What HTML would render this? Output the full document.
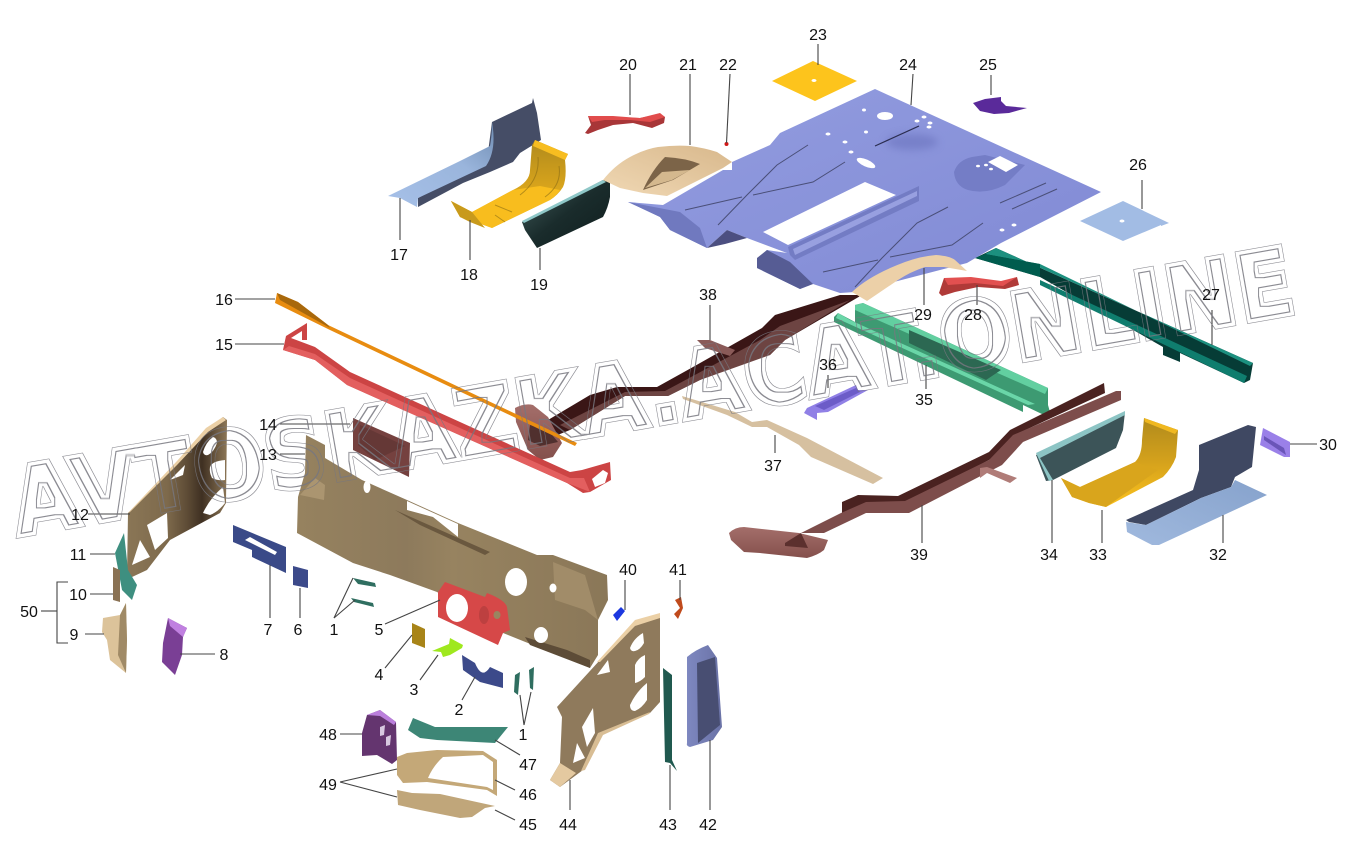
<!DOCTYPE html>
<html><head><meta charset="utf-8"><style>
html,body{margin:0;padding:0;background:#fff;width:1360px;height:847px;overflow:hidden}
svg{display:block}
text.l{font-family:"Liberation Sans",sans-serif;font-size:16px;fill:#111;text-anchor:middle}
.ld line,.ld polyline{stroke:#444;stroke-width:1.1;fill:none}
</style></head><body>
<svg width="1360" height="847" viewBox="0 0 1360 847" xmlns="http://www.w3.org/2000/svg">
<defs>
<linearGradient id="gFloor" x1="0" y1="0" x2="1" y2="1"><stop offset="0" stop-color="#939de0"/><stop offset="1" stop-color="#8089d4"/></linearGradient>
<linearGradient id="g17" x1="0" y1="1" x2="1" y2="0"><stop offset="0" stop-color="#a6c0e8"/><stop offset=".6" stop-color="#9ab5dc"/><stop offset="1" stop-color="#6f8cb2"/></linearGradient>
<linearGradient id="gGold" x1="0" y1="0" x2="0" y2="1"><stop offset="0" stop-color="#b08a1c"/><stop offset=".5" stop-color="#d5a21c"/><stop offset="1" stop-color="#fcc21e"/></linearGradient>
<linearGradient id="g19" x1="0" y1="0" x2="1" y2="1"><stop offset="0" stop-color="#44605f"/><stop offset=".5" stop-color="#1a2c2c"/><stop offset="1" stop-color="#0f1d1d"/></linearGradient>
<linearGradient id="g21" x1="0" y1="1" x2="1" y2="0"><stop offset="0" stop-color="#f0d8b4"/><stop offset="1" stop-color="#d8b88c"/></linearGradient>
<linearGradient id="g13" x1="0" y1="0" x2="1" y2="0"><stop offset="0" stop-color="#96825f"/><stop offset=".35" stop-color="#8d7a5c"/><stop offset=".5" stop-color="#978360"/><stop offset="1" stop-color="#8a7758"/></linearGradient>
<linearGradient id="g12" x1="0" y1="0" x2="1" y2="0"><stop offset="0" stop-color="#8a7656"/><stop offset=".4" stop-color="#7e6a4c"/><stop offset=".6" stop-color="#5e4c36"/><stop offset=".75" stop-color="#3f3022"/><stop offset="1" stop-color="#8c7656"/></linearGradient>
<linearGradient id="g42" x1="0" y1="0" x2="1" y2="0"><stop offset="0" stop-color="#7e88c0"/><stop offset="1" stop-color="#6a72a6"/></linearGradient>
<linearGradient id="g32" x1="0" y1="1" x2="1" y2="0"><stop offset="0" stop-color="#a0b9de"/><stop offset="1" stop-color="#86a2cc"/></linearGradient>
<linearGradient id="gCup" x1="0" y1="0" x2="0" y2="1"><stop offset="0" stop-color="#a46e6a"/><stop offset="1" stop-color="#84504c"/></linearGradient>
<filter id="soft" x="-30%" y="-60%" width="160%" height="220%"><feGaussianBlur stdDeviation="4"/></filter>
<filter id="wm" filterUnits="userSpaceOnUse" x="0" y="200" width="1360" height="360" color-interpolation-filters="sRGB">
<feMorphology in="SourceAlpha" operator="erode" radius="0.7" result="e1"/>
<feComposite in="SourceAlpha" in2="e1" operator="out" result="o1"/>
<feMorphology in="SourceAlpha" operator="erode" radius="3.6" result="e2"/>
<feMorphology in="SourceAlpha" operator="erode" radius="4.3" result="e3"/>
<feComposite in="e2" in2="e3" operator="out" result="o2"/>
<feMerge result="m"><feMergeNode in="o1"/><feMergeNode in="o2"/></feMerge>
<feFlood flood-color="#77777f" flood-opacity=".85"/>
<feComposite in2="m" operator="in"/>
</filter>
</defs>

<!-- 17 -->
<path d="M492,122 L532,103 L533,98 L537,113 L541,140 L520,153 L513,162 L490,172 L463,183 L418,207 L418,198 L487,160Z" fill="#454d66"/>
<path d="M388,196 L460,161 L490,146 Q492,135 492,122 Q497,150 486,166 L418,198 L417,207 L400,198Z" fill="url(#g17)"/>
<!-- 18 -->
<path d="M535,140 L568,154 L565,160 Q567,178 563,187 Q558,195 550,200 L492,228 L470,220 L460,217 L451,201 L472,212 L513,190 Q530,182 530,170 L532,145Z" fill="url(#gGold)"/>
<path d="M451,201 L472,212 L513,190 L540,186 L560,190 Q556,196 550,200 L492,228 L470,220 L460,217Z" fill="#f8bd1e"/>
<path d="M535,140 L568,154 L565,160 L533,146Z" fill="#f7bd20"/>
<path d="M451,201 L472,212 L485,228 L470,222 L460,217Z" fill="#c89a1c"/>
<path d="M538,157 Q540,180 520,195 M559,166 Q562,185 545,197 M495,205 L512,212 M495,215 L505,222" fill="none" stroke="#8a6c14" stroke-width="1" opacity=".6"/>
<!-- 19 -->
<path d="M603,180 L610,182 L610,197 Q608,208 603,217 L537,248 L525,230 L522,222Z" fill="url(#g19)"/>
<path d="M522,221 L603,180 L606,182 L524,223Z" fill="#8fc8c8"/>
<!-- 20 -->
<path d="M588,116 L613,117 L640,118 L660,114 L665,117 L664,123 L652,128 L633,123 L613,125 L598,130 L588,134 L585,133 L591,125Z" fill="#a83638"/>
<path d="M588,116 L613,116 L640,118 L660,113 L665,117 L650,122 L630,120 L605,120 L592,122Z" fill="#e14c4c"/>

<!-- 23 -->
<polygon points="813,61 857,81 815,101 772,81" fill="#fdc41c"/>
<ellipse cx="814" cy="80.500" rx="2.500" ry="1.500" fill="#fff"/>
<!-- 25 -->
<path d="M973,103 L985,99 L1001,97 L1001,101 L1006,106 L1027,108 L1009,113 L994,114 L980,111Z" fill="#5a2a9a"/>
<!-- 26 -->
<polygon points="1123,201 1169,223 1161,226 1161,225 1123,241 1080,221" fill="#a2bce4"/>
<ellipse cx="1122" cy="221" rx="2.500" ry="1.500" fill="#fff"/>

<!-- 27 -->
<polygon points="996,248 1253,363 1250,380 1244,383 1180,353 1180,362 1163,355 1163,347 1040,277 975,258" fill="#063c36"/>
<polygon points="996,248 1253,363 1250,366 1040,264 985,254" fill="#1c907f"/>
<polygon points="985,254 1040,264 1040,277 975,258" fill="#005c4e"/>
<polygon points="1040,280 1247,376 1244,383 1040,285" fill="#0f7d6e"/>

<!-- upper rail -->
<path d="M548,420 L590,395 L617,387 L657,387 L693,367 L762,328 L775,315 L840,295 L862,295 L850,302 L785,340 L770,355 L740,362 L700,380 L668,396 L625,396 L570,430 L555,436Z" fill="#3a1616"/>
<path d="M560,425 L625,392 L665,391 L760,340 L780,326 L850,300 L785,340 L770,355 L700,380 L668,396 L625,396 L570,430Z" fill="#6d4442"/>
<path d="M515,408 Q525,403 533,405 L548,417 L562,443 L553,457 L540,460 L528,450 L516,422Z" fill="url(#gCup)"/>
<path d="M530,425 L548,430 L558,442 L540,446 L528,440Z" fill="#50302e"/>

<!-- 24 floor -->
<path d="M875,89 L1101,192 L1001,243 L967,263 L855,292 L840,293 L813,284 L800,289 L757,268 L757,260 L767,250 L787,253 L747,238 L727,230 L707,248 L670,230 L660,217 L628,202 L663,205 L723,170 L732,170 L732,162 L770,145 L780,133Z" fill="url(#gFloor)"/>
<path d="M757,258 L767,250 L790,262 L813,284 L800,289 L757,268Z" fill="#565c94"/>
<path d="M707,248 L727,230 L747,238 L725,244Z" fill="#4c4f80"/>
<path d="M628,202 L660,217 L670,230 L707,248 L700,228 L680,212Z" fill="#7079bf"/>
<polygon points="763,232 788,245 896,195 865,182" fill="#fff"/>
<path d="M788,247 L919,186 L919,201 L795,260 L790,255Z" fill="#737cc4"/>
<path d="M793,249 L917,191 L917,196 L795,255Z" fill="#98a0e0"/>
<ellipse cx="912" cy="142" rx="26" ry="8" fill="#6f78c2" opacity=".7" filter="url(#soft)"/>
<g fill="none" stroke="#4a4f78" stroke-width="1">
<path d="M808,145 L777,165 L747,195 L718,225"/>
<path d="M845,162 L813,182 L753,195"/>
<path d="M742,197 L685,210"/>
<path d="M948,207 L917,223 L882,258 L855,287"/>
<path d="M983,223 L952,245 L890,257"/>
<path d="M878,260 L823,272"/>
<path d="M1046,183 L1000,203"/>
<path d="M1057,189 L1012,209"/>
</g>
<path d="M919,126 L875,146" stroke="#2b2d50" stroke-width="1.200"/>
<path d="M954,172 Q958,160 972,157 L985,155 L1025,165 L1005,185 Q985,195 968,190 Q955,186 954,172Z" fill="#747dc6"/>
<polygon points="988,162 1000,156 1018,165 1006,172" fill="#fff"/>
<g fill="#fff">
<ellipse cx="885" cy="116" rx="8" ry="4"/><ellipse cx="866" cy="132" rx="2" ry="1.500"/>
<ellipse cx="864" cy="110" rx="2" ry="1.500"/><ellipse cx="882" cy="118" rx="2" ry="1.500"/><ellipse cx="828" cy="134" rx="2.500" ry="1.500"/><ellipse cx="845" cy="142" rx="2.500" ry="1.500"/><ellipse cx="851" cy="152" rx="2.500" ry="1.500"/>
<ellipse cx="917" cy="121" rx="2.500" ry="1.500"/><ellipse cx="924" cy="117" rx="2.500" ry="1.500"/><ellipse cx="930" cy="123" rx="2.500" ry="1.500"/><ellipse cx="929" cy="127" rx="2.500" ry="1.500"/>
<ellipse cx="1002" cy="230" rx="2.500" ry="1.500"/><ellipse cx="1014" cy="225" rx="2.500" ry="1.500"/>
<ellipse cx="866" cy="163" rx="10" ry="3.500" transform="rotate(24 866 163)"/>
<ellipse cx="978" cy="166" rx="2" ry="1.300"/><ellipse cx="986" cy="165" rx="2" ry="1.300"/><ellipse cx="991" cy="169" rx="2" ry="1.300"/>
</g>
<!-- 21 -->
<path d="M603,180 Q615,165 630,157 Q645,149 658,147 Q675,145 690,146 Q705,148 717,152 L732,162 L723,168 L667,196 L643,193 L620,188Z" fill="url(#g21)"/>
<path d="M665,157 Q685,158 700,164 L673,180 L643,190 Q652,170 665,157Z" fill="#7c6448"/>
<path d="M645,188 L662,172 L690,170 L672,180Z" fill="#d4b88e"/>
<!-- 22 -->
<circle cx="726.500" cy="144" r="2" fill="#d01818"/>
<!-- 29 -->
<path d="M852,292 Q870,275 905,262 Q922,256 936,255 Q950,256 955,260 L967,271 L944,267 L925,267 Q910,272 898,280 L867,301Z" fill="#ecd0a8"/>
<!-- 28 -->
<path d="M944,278 L971,278 L1001,282 L1017,277 L1019,285 L1005,289 L978,287 L955,292 L942,296 L939,293Z" fill="#b03a38"/>
<path d="M944,278 L971,277 L1001,281 L1017,277 L1003,286 L975,283 L948,285Z" fill="#e25050"/>

<!-- 35 -->
<polygon points="855,305 863,303 1048,388 1048,405 1050,412 1044,415 1023,405 1023,412 834,322 834,317 838,313 855,322" fill="#3d9a72"/>
<polygon points="855,305 863,303 1048,388 1045,394 855,310" fill="#62cfa0"/>
<polygon points="838,313 850,320 1035,404 1028,405 836,318" fill="#6ad6a8"/>
<polygon points="909,330 1001,370 986,380 909,343" fill="#2c6852"/>
<!-- 36 -->
<polygon points="807,408 856,385 858,390 868,390 828,412 817,413 817,420 804,413" fill="#9080e6"/>
<polygon points="815,406 856,388 860,392 824,410" fill="#6c5cc8"/>
<!-- 37 -->
<polygon points="682,396 735,412 752,422 767,420 807,438 883,478 873,484 811,457 799,445 767,427 752,427 727,415 683,399" fill="#d6c0a0"/>
<!-- 38 -->
<polygon points="697,340 710,340 735,350 730,356 705,348" fill="#8a5a58"/>

<!-- 16 -->
<polygon points="277,293 298,302 328,325 577,443 575,446 330,330 275,303" fill="#e88c10"/>
<polygon points="277,293 298,302 328,325 330,328 280,300" fill="#a8680c"/>
<!-- 15 -->
<path d="M286,336 L307,323 L307,340 L302,340 L302,331 L291,338 L315,347 L350,372 L570,472 L582,470 L610,462 L611,480 L590,492 L583,493 L567,483 L347,385 L315,360 L283,350Z" fill="#cc4444"/>
<path d="M289,346 L315,354 L350,378 L570,478 L584,478 L590,492 L567,483 L347,385 L315,360 L283,350Z" fill="#e35f5f"/>
<path d="M592,479 L603,470 L608,473 L605,483 L595,487Z" fill="#fff"/>
<!-- 14 -->
<polygon points="353,418 410,443 409,477 353,450" fill="#75413f"/>
<polygon points="360,425 405,446 375,460 358,445" fill="#653836"/>

<!-- 13 -->
<path d="M306,435 L325,445 L325,458 L362,480 L407,500 L458,523 L537,555 L553,555 L607,575 L608,600 L598,620 L598,655 L590,668 L503,633 L437,592 L390,575 L353,563 L297,533 L298,497 L305,473Z" fill="url(#g13)"/>
<polygon points="407,501 458,524 458,537 433,517 407,510" fill="#fff"/>
<path d="M395,510 L490,552 L485,555 L420,525Z" fill="#6a583f"/>
<path d="M553,562 L585,575 L598,620 L585,610 L555,600Z" fill="#a18c69"/>
<path d="M525,637 L567,650 L590,660 L590,668 L530,645Z" fill="#5d4c37"/>
<path d="M300,495 L315,478 L325,485 L324,500Z" fill="#b09a74" opacity=".8"/>
<ellipse cx="367" cy="487" rx="3.500" ry="6" fill="#fff"/>
<ellipse cx="516" cy="582" rx="11" ry="14" fill="#fff"/>
<ellipse cx="553" cy="588" rx="3.500" ry="4.500" fill="#fff"/>
<ellipse cx="541" cy="635" rx="7" ry="8" fill="#fff"/>
<!-- 5 -->
<path d="M445,582 L485,597 L487,593 Q505,600 507,607 L510,630 L503,633 L498,645 L438,617 L438,592Z" fill="#d64848"/>
<ellipse cx="484" cy="615" rx="5" ry="9" fill="#bd4040"/>
<ellipse cx="457" cy="608" rx="11" ry="14" fill="#fff"/>
<ellipse cx="497" cy="615" rx="3.500" ry="4" fill="#9a8560"/>
<!-- 4 -->
<polygon points="412,623 425,629 425,648 412,643" fill="#a88418"/>
<!-- 3 -->
<polygon points="432,651 449,644 450,638 463,645 462,648 450,655 443,657 441,652" fill="#9fe81e"/>
<!-- 2 -->
<path d="M462,655 L475,663 Q482,680 490,667 L503,673 L503,688 L480,682 L463,670Z" fill="#3c4a8a"/>
<!-- 6 -->
<polygon points="293,566 308,570 308,588 293,585" fill="#3c4a8a"/>
<!-- 7 -->
<path d="M233,525 L286,547 L286,573 L252,557 L252,550 L233,542Z" fill="#3a4a88"/>
<path d="M245,540 L250,537 L277,552 L275,555Z" fill="#fff"/>
<!-- 1 clips -->
<g fill="#2f6e60">
<polygon points="353,578 375,583 376,587 358,584"/>
<polygon points="351,598 373,603 374,607 354,602"/>
<polygon points="515,675 520,672 518,695 514,692"/>
<polygon points="529,670 534,667 533,690 530,688"/>
</g>
<!-- 40, 41 -->
<polygon points="613,615 621,607 625,611 617,621" fill="#1c38e0"/>
<path d="M675,600 L681,597 L683,608 L678,619 L674,614 L680,608Z" fill="#c04a1c"/>

<!-- 12 -->
<path d="M223,417 L227,420 L226,503 L220,513 L170,540 L147,570 L132,577 L127,575 L128,513 L177,463 L207,430Z" fill="url(#g12)"/>
<path d="M223,417 L226,420 L208,432 L177,465 L130,512 L128,513 L177,461 L206,428Z" fill="#ebd0a6"/>
<g fill="#fff">
<path d="M203,452 Q206,442 213,437 Q217,438 217,443 Q214,452 208,455 Q204,456 203,452Z"/>
<path d="M210,467 Q212,461 225,460 L225,480 Q218,481 212,478 Q209,472 210,467Z"/>
<path d="M203,513 Q210,498 223,487 L225,503 Q218,512 210,515Z"/>
<path d="M170,480 L185,465 L183,475Z"/>
<path d="M147,525 L167,513 L168,538 L155,550Z"/>
<path d="M132,565 L140,540 L150,557Z"/>
</g>
<!-- 11 -->
<polygon points="124,533 128,570 137,585 132,600 122,590 115,553" fill="#3e8f80"/>
<!-- 10 -->
<polygon points="113,567 120,570 120,602 113,600" fill="#8a7254"/>
<!-- 9 -->
<path d="M103,618 L120,615 L126,603 L127,640 L126,673 L110,660 L107,640 L102,632Z" fill="#dcc39a"/>
<polygon points="120,615 126,603 127,640 126,673 118,655" fill="#a08a66"/>
<!-- 8 -->
<polygon points="168,618 187,628 183,637 182,655 175,675 162,662 163,643 167,623" fill="#7a3f95"/>
<polygon points="168,618 187,628 183,637 170,626" fill="#c080e0"/>

<!-- 44 -->
<path d="M635,622 L660,615 L660,702 L650,713 L603,733 L583,770 L560,787 L550,780 L560,763 L562,717 L557,707 L600,660Z" fill="#8f7a5c"/>
<path d="M635,620 L660,613 L660,618 L635,626 L600,662 L597,662Z" fill="#ebd0a6"/>
<path d="M550,780 L560,763 L576,773 L560,787Z" fill="#e4c9a0"/>
<path d="M598,733 L650,712 L649,714 L603,735 L585,770 L581,771Z" fill="#d8bd94"/>
<g fill="#fff">
<path d="M630,648 Q634,638 643,633 L644,643 Q640,650 635,651 Q631,652 630,648Z"/>
<path d="M635,665 Q638,658 645,655 L645,677 Q640,682 635,683Z"/>
<path d="M630,705 Q636,692 647,683 L647,700 Q642,708 635,711 Q630,711 630,705Z"/>
<path d="M597,675 L608,660 L610,672Z"/>
<path d="M582,727 L593,708 L595,733 L587,747Z"/>
<path d="M573,763 L577,743 L585,758Z"/>
</g>
<!-- 43 -->
<polygon points="663,668 672,675 672,760 677,771 670,763 665,762" fill="#20594f"/>
<!-- 42 -->
<path d="M687,657 Q695,650 708,645 L717,658 L722,727 L713,740 L690,747 Q686,746 687,743Z" fill="url(#g42)"/>
<path d="M697,663 L715,657 L720,725 L698,743Z" fill="#484e72"/>
<!-- 48 -->
<polygon points="367,715 380,710 396,722 397,760 392,764 377,755 362,756 362,733" fill="#64356f"/>
<polygon points="367,715 380,710 396,722 394,725 380,716" fill="#bb7fdc"/>
<polygon points="380,727 385,725 384,735 380,736" fill="#d8c8e0"/>
<polygon points="386,737 391,735 390,745 386,746" fill="#d8c8e0"/>
<!-- 47 -->
<polygon points="408,730 413,718 435,727 508,727 495,743 437,740 420,738" fill="#3d8676"/>
<!-- 46 -->
<path fill-rule="evenodd" d="M397,757 L407,753 L437,750 L483,751 L497,760 L497,796 L487,790 L427,782 L403,783 L397,775Z M428,778 Q433,766 443,757 L483,755 L493,762 L493,790 L487,787Z" fill="#c4a878"/>
<!-- 45 -->
<polygon points="397,790 412,793 440,794 495,806 485,808 472,817 460,818 420,810 398,805" fill="#c0a67a"/>

<!-- 30,32,33,34 -->
<polygon points="1036,455 1074,437 1125,412 1123,430 1116,448 1053,480 1046,481" fill="#3c5458"/>
<polygon points="1036,453 1074,435 1125,411 1125,415 1040,458 1053,480 1049,481" fill="#8cc4c4"/>
<path d="M1144,418 L1178,430 L1176,457 Q1172,468 1163,477 L1106,507 L1089,503 L1072,497 L1061,478 L1080,487 L1135,462 Q1142,455 1142,440Z" fill="url(#gGold)"/>
<polygon points="1061,478 1080,487 1135,462 1158,470 1106,507 1089,503 1072,497" fill="#d9a51c"/>
<polygon points="1144,418 1178,430 1175,434 1145,422" fill="#f0b820"/>
<polygon points="1199,445 1248,425 1256,427 1252,467 1235,477 1231,487 1201,498 1146,525 1129,522 1126,520 1193,490 1199,470" fill="#3f4862"/>
<polygon points="1235,480 1267,495 1159,545 1152,545 1127,532 1126,522 1146,525 1201,498 1231,487" fill="url(#g32)"/>
<polygon points="1260,445 1263,428 1290,442 1290,457 1284,457" fill="#9a80e8"/>
<polygon points="1264,436 1284,448 1286,455 1264,440" fill="#6a55b8"/>

<!-- 39 -->
<path d="M842,502 L858,495 L898,496 L989,452 L1010,430 L1104,383 L1105,393 L1019,433 L1013,445 L989,460 L905,505 L866,508 L842,513Z" fill="#4a2220"/>
<path d="M824,533 L801,533 L841,513 L866,502 L905,501 L989,460 L1013,435 L1116,391 L1121,391 L1121,400 L1023,442 L1002,465 L909,513 L866,513Z" fill="#7d4d4b"/>
<path d="M729,533 Q735,527 744,527 L799,533 L828,540 L824,550 Q818,555 807,558 L760,553 L744,552 L731,540Z" fill="url(#gCup)"/>
<path d="M785,543 L801,533 L808,548 L785,546Z" fill="#5c302e"/>
<polygon points="980,468 987,467 1017,478 1010,483 987,473 980,478" fill="#b07c78"/>

<!-- leaders -->
<g class="ld">
<line x1="818" y1="44" x2="818" y2="65"/><line x1="630" y1="74" x2="630" y2="115"/><line x1="690" y1="74" x2="690" y2="145"/><line x1="730" y1="74" x2="726.500" y2="143"/><line x1="913" y1="74" x2="911" y2="105"/><line x1="991" y1="75" x2="991" y2="95"/><line x1="1142" y1="180" x2="1142" y2="209"/>
<line x1="400" y1="198" x2="400" y2="240"/><line x1="470" y1="220" x2="470" y2="260"/><line x1="540" y1="248" x2="540" y2="270"/>
<line x1="235" y1="299" x2="275" y2="299"/><line x1="235" y1="344" x2="284" y2="344"/>
<line x1="710" y1="305" x2="710" y2="340"/><line x1="924" y1="268" x2="924" y2="305"/><line x1="977" y1="285" x2="977" y2="305"/><line x1="1212" y1="310" x2="1212" y2="345"/>
<line x1="828" y1="375" x2="828" y2="388"/><line x1="926" y1="365" x2="926" y2="389"/><line x1="775" y1="435" x2="775" y2="453"/>
<line x1="280" y1="424" x2="350" y2="424"/><line x1="280" y1="454" x2="305" y2="454"/><line x1="88" y1="514" x2="130" y2="514"/><line x1="90" y1="554" x2="115" y2="554"/><line x1="90" y1="594" x2="113" y2="594"/><line x1="85" y1="634" x2="104" y2="634"/>
<polyline points="68,582 57,582 57,643 68,643"/><line x1="41" y1="611" x2="57" y2="611"/>
<line x1="180" y1="654" x2="215" y2="654"/><line x1="270" y1="565" x2="270" y2="618"/><line x1="300" y1="588" x2="300" y2="618"/>
<line x1="334" y1="618" x2="353" y2="578"/><line x1="334" y1="618" x2="355" y2="600"/><line x1="385" y1="624" x2="440" y2="600"/><line x1="385" y1="668" x2="412" y2="635"/><line x1="420" y1="680" x2="438" y2="655"/><line x1="462" y1="700" x2="475" y2="677"/>
<line x1="524" y1="725" x2="520" y2="695"/><line x1="524" y1="725" x2="531" y2="692"/>
<line x1="625" y1="580" x2="625" y2="610"/><line x1="680" y1="580" x2="680" y2="600"/><line x1="1290" y1="444" x2="1317" y2="444"/>
<line x1="1223" y1="515" x2="1223" y2="543"/><line x1="1102" y1="510" x2="1102" y2="543"/><line x1="1052" y1="480" x2="1052" y2="543"/><line x1="922" y1="505" x2="922" y2="543"/>
<line x1="710" y1="740" x2="710" y2="810"/><line x1="670" y1="765" x2="670" y2="810"/><line x1="570" y1="780" x2="570" y2="810"/>
<line x1="495" y1="810" x2="515" y2="820"/><line x1="495" y1="780" x2="515" y2="790"/><line x1="495" y1="740" x2="520" y2="755"/>
<line x1="340" y1="734" x2="362" y2="734"/><line x1="340" y1="782" x2="397" y2="769"/><line x1="340" y1="782" x2="397" y2="797"/>
</g>

<!-- watermark -->
<g filter="url(#wm)">
<text transform="translate(18,536) rotate(-9.9) scale(.905,1)" font-family="'DejaVu Sans',sans-serif" font-weight="bold" font-size="94" fill="#000" stroke="#000" stroke-width="5" stroke-linejoin="miter">AVTOSKAZKA.ACAT.ONLINE</text>
</g>

<!-- labels -->
<g>
<text class="l" x="818" y="40">23</text><text class="l" x="628" y="70">20</text><text class="l" x="688" y="70">21</text><text class="l" x="728" y="70">22</text><text class="l" x="908" y="70">24</text><text class="l" x="988" y="70">25</text><text class="l" x="1138" y="170">26</text>
<text class="l" x="399" y="260">17</text><text class="l" x="469" y="280">18</text><text class="l" x="539" y="290">19</text><text class="l" x="224" y="305">16</text><text class="l" x="224" y="350">15</text>
<text class="l" x="708" y="300">38</text><text class="l" x="923" y="320">29</text><text class="l" x="973" y="320">28</text><text class="l" x="1211" y="300">27</text><text class="l" x="828" y="370">36</text><text class="l" x="924" y="405">35</text><text class="l" x="773" y="471">37</text>
<text class="l" x="268" y="430">14</text><text class="l" x="268" y="460">13</text><text class="l" x="80" y="520">12</text><text class="l" x="78" y="560">11</text><text class="l" x="78" y="600">10</text><text class="l" x="74" y="640">9</text><text class="l" x="29" y="617">50</text>
<text class="l" x="224" y="660">8</text><text class="l" x="268" y="635">7</text><text class="l" x="298" y="635">6</text><text class="l" x="334" y="635">1</text><text class="l" x="379" y="635">5</text><text class="l" x="379" y="680">4</text><text class="l" x="414" y="695">3</text><text class="l" x="459" y="715">2</text><text class="l" x="523" y="740">1</text>
<text class="l" x="628" y="575">40</text><text class="l" x="678" y="575">41</text><text class="l" x="1328" y="450">30</text><text class="l" x="1218" y="560">32</text><text class="l" x="1098" y="560">33</text><text class="l" x="1049" y="560">34</text><text class="l" x="919" y="560">39</text>
<text class="l" x="708" y="830">42</text><text class="l" x="668" y="830">43</text><text class="l" x="568" y="830">44</text><text class="l" x="528" y="830">45</text><text class="l" x="528" y="800">46</text><text class="l" x="528" y="770">47</text><text class="l" x="328" y="740">48</text><text class="l" x="328" y="790">49</text>
</g>
</svg>
</body></html>
